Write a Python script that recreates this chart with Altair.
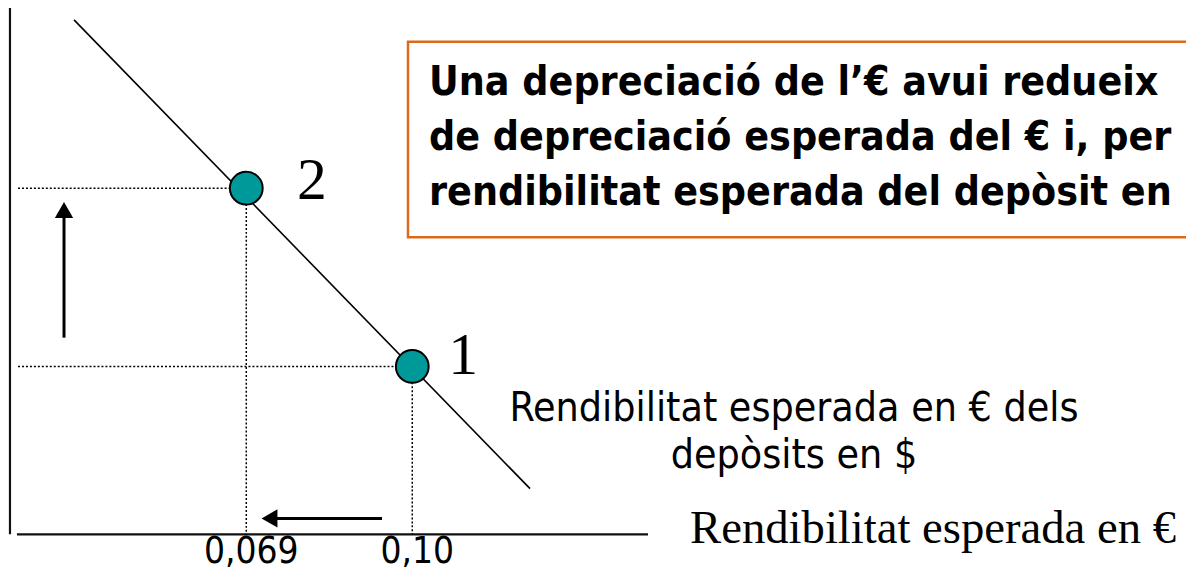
import altair as alt
import pandas as pd

# ---- data (diagram units: x = expected return, y = exchange rate index) ----
point_labels = ["1", "2"]
point_return = [0.10, 0.069]
point_rate = [1.00, 1.10]

curve_return = [0.03683, 0.12199]
curve_rate = [1.19443, 0.93146]

tick_values = [0.069, 0.10]
tick_labels = ["0,069", "0,10"]

box_lines = [
    "Una depreciació de l’€ avui redueix",
    "de depreciació esperada del € i, per",
    "rendibilitat esperada del depòsit en",
]
curve_label_lines = ["Rendibilitat esperada en € dels", "depòsits en $"]
x_axis_title = "Rendibilitat esperada en €"

# frame of the diagram
axis_x0 = 0.02487
axis_y0 = 0.90583
axis_x_end = 0.14403
axis_y_top = 1.2045
guide_x_start = 0.02637

xs = alt.Scale(domain=[0.0245, 0.2445], nice=False, zero=False)
ys = alt.Scale(domain=[0.88633, 1.2], nice=False, zero=False)

SANS = "DejaVu Sans Condensed, DejaVu Sans"
SERIF = "Liberation Serif, Times New Roman, serif"

def X(f="x"):
    return alt.X(f"{f}:Q", scale=xs, axis=None)

def Y(f="y"):
    return alt.Y(f"{f}:Q", scale=ys, axis=None)

# axes lines
axes_df = pd.DataFrame({
    "x": [axis_x0, guide_x_start - 0.0002],
    "x2": [axis_x0, axis_x_end],
    "y": [axis_y0, axis_y0],
    "y2": [axis_y_top, axis_y0],
})
axes = alt.Chart(axes_df).mark_rule(color="#111111", strokeWidth=2.2).encode(
    x=X(), x2="x2:Q", y=Y(), y2="y2:Q")

# dotted guides
guides_df = pd.DataFrame({
    "x": [guide_x_start, guide_x_start, point_return[0], point_return[1]],
    "x2": [point_return[0], point_return[1], point_return[0], point_return[1]],
    "y": [point_rate[0], point_rate[1], point_rate[0], point_rate[1]],
    "y2": [point_rate[0], point_rate[1], axis_y0, axis_y0],
})
guides = alt.Chart(guides_df).mark_rule(color="black", strokeWidth=1.5, strokeDash=[2, 2]).encode(
    x=X(), x2="x2:Q", y=Y(), y2="y2:Q")

# expected return curve
curve_df = pd.DataFrame({"x": curve_return, "y": curve_rate})
curve = alt.Chart(curve_df).mark_line(color="black", strokeWidth=1.6).encode(x=X(), y=Y())

# equilibrium points
pts_df = pd.DataFrame({"x": point_return, "y": point_rate, "lab": point_labels})
pts = alt.Chart(pts_df).mark_point(
    shape="circle", filled=True, fill="#009999", stroke="black", strokeWidth=2, size=1090, opacity=1
).encode(x=X(), y=Y())

num_df = pd.DataFrame({"x": [0.10948, 0.08127], "y": [0.99553, 1.09414], "lab": point_labels})
nums = alt.Chart(num_df).mark_text(font=SERIF, fontSize=60, align="center", baseline="alphabetic",
                                   color="black").encode(x=X(), y=Y(), text="lab:N")

# arrows
shaft_df = pd.DataFrame({
    "x": [0.03496, 0.09435], "x2": [0.03496, 0.0735],
    "y": [1.01615, 0.91475], "y2": [1.0885, 0.91475],
})
shafts = alt.Chart(shaft_df).mark_rule(color="black", strokeWidth=3).encode(
    x=X(), x2="x2:Q", y=Y(), y2="y2:Q")
heads_df = pd.DataFrame({"x": [0.03496, 0.07334], "y": [1.08774, 0.91475],
                         "shape": ["triangle-up", "triangle-left"]})
heads = alt.Chart(heads_df).mark_point(filled=True, color="black", size=340, opacity=1).encode(
    x=X(), y=Y(), shape=alt.Shape("shape:N", scale=None))

# tick labels
ticks_df = pd.DataFrame({"x": tick_values, "y": [0.88968, 0.88968], "t": tick_labels})
ticks = alt.Chart(ticks_df).mark_text(font=SANS, fontSize=37, align="center", baseline="alphabetic",
                                      dx=5, color="black").encode(x=X(), y=Y(), text="t:N")

# orange box with text
box_df = pd.DataFrame({"x": [0.0992], "x2": [0.27], "y": [1.18217], "y2": [1.07242]})
box = alt.Chart(box_df).mark_rect(fill="white", stroke="#DD6A1A", strokeWidth=2.5).encode(
    x=X(), x2="x2:Q", y=Y(), y2="y2:Q")
box_txt_df = pd.DataFrame({"x": [0.10313] * 3, "y": [1.15209, 1.12144, 1.0908], "t": box_lines})
box_txt = alt.Chart(box_txt_df).mark_text(font=SANS, fontSize=41, fontWeight="bold", align="left",
                                          baseline="alphabetic", color="black").encode(
    x=X(), y=Y(), text="t:N")

# curve label
cl_df = pd.DataFrame({"x": [0.17129, 0.17129], "y": [0.96946, 0.94328], "t": curve_label_lines})
cl = alt.Chart(cl_df).mark_text(font=SANS, fontSize=41, align="center", baseline="alphabetic",
                                color="black").encode(x=X(), y=Y(), text="t:N")

# x-axis title
xt_df = pd.DataFrame({"x": [0.15188], "y": [0.90082], "t": [x_axis_title]})
xt = alt.Chart(xt_df).mark_text(font=SERIF, fontSize=47, align="left", baseline="alphabetic",
                                color="black").encode(x=X(), y=Y(), text="t:N")

chart = alt.layer(axes, guides, curve, shafts, heads, pts, nums, ticks, box, box_txt, cl, xt).properties(
    width=1186, height=563, padding=0, autosize="none", background="white"
).configure_view(stroke=None)

chart.save("out.html", embed_options={"renderer": "svg", "actions": False})
